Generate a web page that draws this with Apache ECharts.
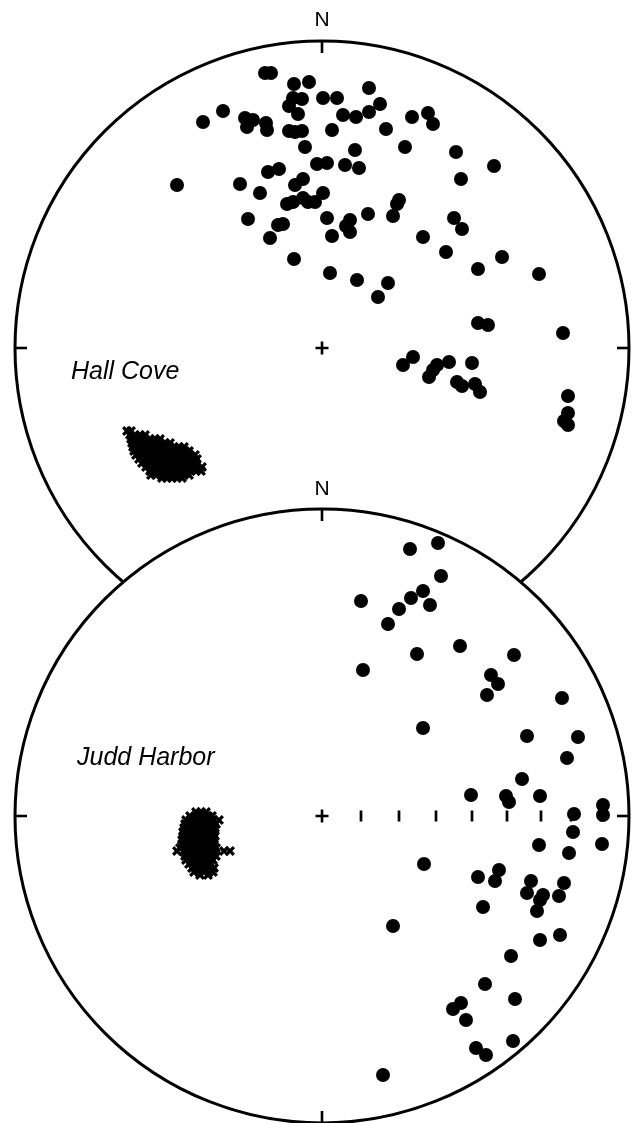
<!DOCTYPE html>
<html>
<head>
<meta charset="utf-8">
<title>Hall Cove / Judd Harbor stereonets</title>
<script src="https://cdn.jsdelivr.net/npm/echarts@6/dist/echarts.min.js"></script>
<style>
  html, body { margin: 0; padding: 0; background: #fff; }
  #chart { width: 632px; height: 1123px; }
</style>
</head>
<body>
<div id="chart"></div>
<script>
/* ============================================================
   Two equal-area nets: Hall Cove (top) and Judd Harbor (bottom)
   Net units: origin at net centre, primitive circle radius = 307
   ============================================================ */

const NET_R = 307;

// poles (filled dots), Hall Cove
const hallCoveDots = [
  [-57,275],[-51,275],[-28,264],[-13,266],[47,260],[1,250],[15,250],[-29,250],[-20,249],
  [-33,242],[-24,234],[-99,237],[-119,226],[-77,230],[-69,228],[-75,221],[-56,225],[-55,218],
  [-33,217],[-27,216],[-20,217],[21,233],[34,231],[47,236],[58,244],[10,218],[64,219],
  [83,201],[-17,201],[33,198],[-5,184],[5,185],[23,183],[37,180],[-43,179],[-54,176],
  [-145,163],[-82,164],[-62,155],[-19,169],[-27,163],[1,155],[-35,144],[-29,146],[-19,150],
  [-14,146],[-7,146],[-74,129],[-44,123],[-39,124],[5,130],[28,128],[24,122],[28,116],
  [46,134],[71,132],[77,148],[75,144],[-52,110],[10,112],[90,231],[106,235],[111,224],
  [134,196],[172,182],[139,169],[132,130],[140,119],[101,111],[-28,89],[8,75],[35,68],
  [66,65],[56,51],[124,96],[180,91],[156,79],[217,74],[156,25],[166,23],[241,15],
  [91,-9],[81,-17],[127,-14],[115,-17],[111,-22],[107,-29],[150,-15],[135,-34],[140,-38],
  [153,-36],[158,-44],[246,-48],[246,-65],[242,-73],[246,-77]
];

// crosses, Hall Cove
const hallCoveCrosses = [
  [-195,-83],[-191,-83],
  [-192,-87],[-187,-87],[-182,-87],[-177,-87],
  [-191,-91],[-186,-91],[-182,-91],[-177,-91],[-172,-91],[-167,-91],[-162,-91],
  [-190,-95],[-186,-95],[-181,-95],[-176,-95],[-172,-95],[-167,-95],[-162,-95],[-157,-95],[-152,-95],
  [-189,-99],[-185,-99],[-180,-99],[-176,-99],[-171,-99],[-166,-99],[-162,-99],[-157,-99],[-152,-99],
  [-148,-99],[-143,-99],[-138,-99],
  [-188,-103],[-184,-103],[-179,-103],[-174,-103],[-170,-103],[-165,-103],[-161,-103],[-156,-103],
  [-151,-103],[-147,-103],[-142,-103],[-137,-103],[-133,-103],
  [-186,-107],[-182,-107],[-177,-107],[-173,-107],[-168,-107],[-164,-107],[-159,-107],[-155,-107],
  [-150,-107],[-145,-107],[-141,-107],[-136,-107],[-132,-107],[-127,-107],
  [-183,-111],[-179,-111],[-174,-111],[-170,-111],[-165,-111],[-161,-111],[-156,-111],[-152,-111],
  [-147,-111],[-143,-111],[-138,-111],[-134,-111],[-129,-111],[-125,-111],
  [-180,-115],[-176,-115],[-171,-115],[-167,-115],[-162,-115],[-158,-115],[-153,-115],[-149,-115],
  [-144,-115],[-140,-115],[-135,-115],[-131,-115],[-126,-115],
  [-176,-119],[-172,-119],[-167,-119],[-163,-119],[-158,-119],[-154,-119],[-149,-119],[-145,-119],
  [-140,-119],[-136,-119],[-131,-119],[-126,-119],[-120,-119],
  [-172,-123],[-167,-123],[-163,-123],[-158,-123],[-154,-123],[-149,-123],[-145,-123],[-140,-123],
  [-136,-123],[-131,-123],[-126,-123],[-121,-123],
  [-171,-127],[-166,-127],[-161,-127],[-157,-127],[-152,-127],[-148,-127],[-143,-127],[-138,-127],[-133,-127],
  [-160,-130],[-155,-130],[-150,-130],[-145,-130],[-140,-130]
];

// poles (filled dots), Judd Harbor
const juddHarborDots = [
  [88,267],[116,273],[119,240],[39,215],[101,225],[89,218],[108,211],[77,207],[66,192],
  [138,170],[95,162],[192,161],[41,146],[169,141],[176,132],[165,121],[240,118],[101,88],
  [205,80],[256,79],[245,58],[200,37],[149,21],[184,20],[187,14],[218,20],[252,2],
  [281,11],[281,1],[251,-16],[217,-29],[247,-37],[280,-28],[102,-48],[156,-61],[177,-54],
  [173,-65],[209,-65],[205,-77],[221,-79],[218,-84],[215,-95],[242,-67],[237,-80],[161,-91],
  [71,-110],[218,-124],[238,-119],[189,-140],[163,-168],[139,-187],[131,-193],[144,-204],
  [193,-183],[191,-225],[154,-232],[164,-239],[61,-259]
];

// crosses, Judd Harbor
const juddHarborCrosses = [
  [-126,4],[-121,4],[-116,4],
  [-132,0],[-127,0],[-123,0],[-118,0],[-114,0],[-110,0],
  [-136,-4],[-132,-4],[-127,-4],[-123,-4],[-118,-4],[-114,-4],[-109,-4],[-103,-4],
  [-137,-8],[-133,-8],[-128,-8],[-124,-8],[-119,-8],[-115,-8],[-110,-8],[-106,-8],
  [-138,-12],[-134,-12],[-129,-12],[-125,-12],[-120,-12],[-116,-12],[-111,-12],[-107,-12],
  [-139,-16],[-135,-16],[-130,-16],[-126,-16],[-121,-16],[-117,-16],[-112,-16],[-108,-16],
  [-139,-20],[-135,-20],[-130,-20],[-126,-20],[-121,-20],[-117,-20],[-112,-20],[-107,-20],
  [-140,-24],[-136,-24],[-131,-24],[-127,-24],[-122,-24],[-118,-24],[-113,-24],[-108,-24],
  [-140,-28],[-136,-28],[-131,-28],[-127,-28],[-122,-28],[-118,-28],[-113,-28],[-108,-28],
  [-142,-32],[-137,-32],[-133,-32],[-128,-32],[-124,-32],[-119,-32],[-115,-32],[-110,-32],[-106,-32],
  [-145,-35],[-98,-35],[-92,-35],
  [-138,-36],[-133,-36],[-129,-36],[-124,-36],[-120,-36],[-115,-36],[-111,-36],[-107,-36],
  [-137,-40],[-132,-40],[-128,-40],[-123,-40],[-119,-40],[-114,-40],[-110,-40],[-106,-40],
  [-136,-44],[-131,-44],[-127,-44],[-122,-44],[-118,-44],[-113,-44],[-109,-44],
  [-133,-48],[-129,-48],[-124,-48],[-120,-48],[-115,-48],[-111,-48],
  [-130,-52],[-126,-52],[-121,-52],[-116,-52],[-112,-52],[-108,-52],
  [-128,-56],[-123,-56],[-118,-56],[-113,-56],[-109,-56],
  [-122,-59],[-114,-59]
];

// plunge scale along the east radius of the Judd Harbor net (80..10 deg)
const plungeTicks = [39, 77, 114, 150, 185, 219, 249, 279];

const nets = [
  { name: "Hall Cove", dots: hallCoveDots, crosses: hallCoveCrosses, scale: [] },
  { name: "Judd Harbor", dots: juddHarborDots, crosses: juddHarborCrosses, scale: plungeTicks },
];

/* ----------------------- SYMBOLS ----------------------- */
const CROSS = "path://M0,2.3L2.3,0L5,2.7L7.7,0L10,2.3L7.3,5L10,7.7L7.7,10L5,7.3L2.3,10L0,7.7L2.7,5Z";
const PLUS = "path://M4,0H6V4H10V6H6V10H4V6H0V4H4Z";
const FONT = '"Liberation Sans", Arial, Helvetica, sans-serif';
const INK = { color: "#000", opacity: 1 };

/* ----------------------- SERIES ----------------------- */
function netSeries(net, i) {
  const base = i * 2 + 1; // bottom net sits above (and hides) the lower part of the top one
  const axes = { xAxisIndex: i, yAxisIndex: i, clip: false, silent: true, animation: false };
  const tickIn = NET_R - 6;
  return [
    {
      ...axes,
      type: "custom",
      z: base,
      data: [[0, 0]],
      renderItem: (params, api) => {
        const c = api.coord([0, 0]);
        const r = api.size([NET_R, 0])[0];
        return {
          type: "circle",
          shape: { cx: c[0], cy: c[1], r },
          style: { fill: "#fff", stroke: "#000", lineWidth: 3 },
        };
      },
    },
    { ...axes, type: "scatter", z: base + 1, symbol: "rect", symbolSize: [2.6, 12],
      itemStyle: INK, data: [[0, tickIn], [0, -tickIn]] },
    { ...axes, type: "scatter", z: base + 1, symbol: "rect", symbolSize: [12, 2.6],
      itemStyle: INK, data: [[tickIn, 0], [-tickIn, 0]] },
    { ...axes, type: "scatter", z: base + 1, symbol: "rect", symbolSize: [2.7, 11],
      itemStyle: INK, data: net.scale.map((x) => [x, 0]) },
    { ...axes, type: "scatter", z: base + 1, symbol: PLUS, symbolSize: 13,
      itemStyle: INK, data: [[0, 0]] },
    { ...axes, type: "scatter", name: net.name, z: base + 1, symbol: CROSS, symbolSize: 10,
      itemStyle: INK, data: net.crosses },
    { ...axes, type: "scatter", name: net.name, z: base + 1, symbol: "circle", symbolSize: 14,
      itemStyle: INK, data: net.dots },
  ];
}

const axis = (i) => ({ gridIndex: i, type: "value", min: -NET_R, max: NET_R, show: false });

const chart = echarts.init(document.getElementById("chart"), null, { renderer: "canvas" });
chart.setOption({
  animation: false,
  backgroundColor: "#fff",
  grid: [
    { left: 15, top: 41, width: 614, height: 614 },
    { left: 15, top: 509, width: 614, height: 614 },
  ],
  xAxis: [axis(0), axis(1)],
  yAxis: [axis(0), axis(1)],
  series: nets.flatMap(netSeries),
  graphic: [
    { type: "text", z: 10, x: 322, y: 20.5,
      style: { text: "N", fill: "#000", fontSize: 21, fontFamily: FONT, align: "center", verticalAlign: "middle" } },
    { type: "text", z: 10, x: 322, y: 489,
      style: { text: "N", fill: "#000", fontSize: 21, fontFamily: FONT, align: "center", verticalAlign: "middle" } },
    { type: "text", z: 10, x: 71, y: 372,
      style: { text: "Hall Cove", fill: "#000", fontSize: 25, fontStyle: "italic", fontFamily: FONT,
               align: "left", verticalAlign: "middle" } },
    { type: "text", z: 10, x: 77, y: 758,
      style: { text: "Judd Harbor", fill: "#000", fontSize: 25, fontStyle: "italic", fontFamily: FONT,
               align: "left", verticalAlign: "middle" } },
  ],
});
</script>
</body>
</html>
